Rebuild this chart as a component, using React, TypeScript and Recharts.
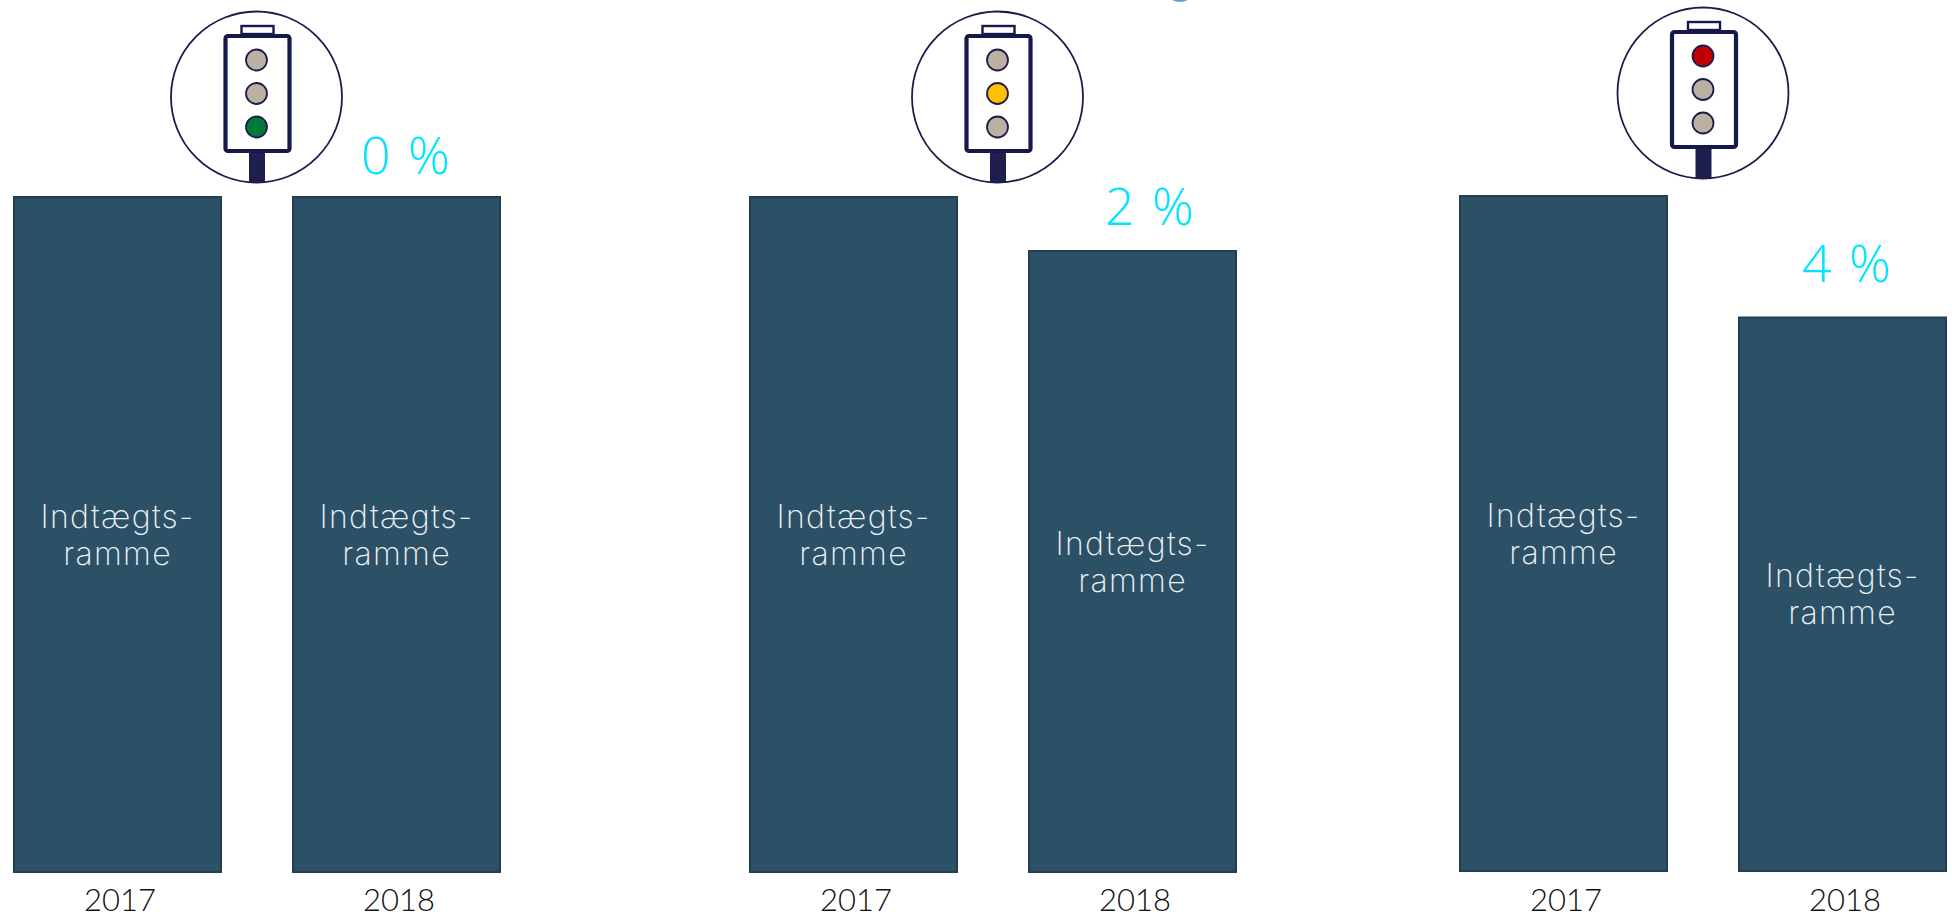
import React from "react";
import { BarChart, Bar, XAxis, YAxis, LabelList } from "recharts";

const years = ["2017", "2018"];
const incomeA = [100, 100];
const incomeB = [100, 92];
const incomeC = [100, 82];
const changeLabels = ["0 %", "2 %", "4 %"];
const barTextLines = ["Indtægts-", "ramme"];
const lampsLit = ["green", "yellow", "red"];

const rows = (vals: number[], change: string) =>
  years.map((year, i) => ({ year, income: vals[i], change: i === 1 ? change : null }));

const panels = [
  { data: rows(incomeA, changeLabels[0]), left: -21.8, top: 0, labelDx: 10, labelDy: -44, light: { cx: 256.5, cy: 97, lit: lampsLit[0] } },
  { data: rows(incomeB, changeLabels[1]), left: 714.1, top: 0, labelDx: 18, labelDy: -47, light: { cx: 997.5, cy: 97, lit: lampsLit[1] } },
  { data: rows(incomeC, changeLabels[2]), left: 1424, top: -1, labelDx: 5, labelDy: -56, light: { cx: 1703, cy: 93, lit: lampsLit[2] } },
];

const FILL = "#2C5066";
const EDGE = "#223F50";
const NAVY = "#14194A";
const LAMP_OFF = "#BCB0A2";
const LAMP_ON: Record<string, string> = { green: "#007A37", yellow: "#FFC000", red: "#C00000" };

function InnerLabel(props: any) {
  const { x, y, width, height } = props;
  const cx = x + width / 2;
  const cy = y + height / 2;
  return (
    <text textAnchor="middle" fill="#EEF3F6" fontFamily="Inter" fontWeight={200} fontSize={32} letterSpacing={1.3}>
      <tspan x={cx} y={cy - 7}>{barTextLines[0]}</tspan>
      <tspan x={cx} y={cy + 30}>{barTextLines[1]}</tspan>
    </text>
  );
}

const changeLabel = (dx: number, dy: number) => (props: any) => {
  const { x, y, width, value } = props;
  if (!value) return null;
  return (
    <text x={x + width / 2 + dx} y={y + dy} textAnchor="middle" dominantBaseline="central" fill="#00E5FF" fontFamily="Open Sans" fontWeight={300} fontSize={52} letterSpacing={2}>
      {value}
    </text>
  );
};

function YearTick(props: any) {
  const { x, payload, top } = props;
  return (
    <text x={x + 2.5} y={910.5 - top} textAnchor="middle" fill="#111" fontFamily="Lato" fontWeight={300} fontSize={31}>
      {payload.value}
    </text>
  );
}

function TrafficLight({ cx, cy, lit }: { cx: number; cy: number; lit: string }) {
  const order = ["red", "yellow", "green"];
  const lampY = [-37, -3.5, 30];
  return (
    <g>
      <circle cx={cx} cy={cy} r={85.5} fill="#fff" stroke="#1E1B4B" strokeWidth={1.8} />
      <rect x={cx - 15} y={cy - 71} width={32} height={8} fill="#fff" stroke={NAVY} strokeWidth={2.4} />
      <rect x={cx - 31} y={cy - 61} width={64} height={115} rx={2.5} fill="#fff" stroke={NAVY} strokeWidth={4.2} />
      <rect x={cx - 7.5} y={cy + 56} width={16} height={29.5} fill="#1F1F4F" />
      {order.map((c, i) => (
        <circle key={c} cx={cx} cy={cy + lampY[i]} r={10.5} fill={c === lit ? LAMP_ON[c] : LAMP_OFF} stroke="#1E1B4B" strokeWidth={1.8} />
      ))}
    </g>
  );
}

export default function App() {
  return (
    <div style={{ position: "absolute", left: 0, top: 0, width: 1952, height: 917, overflow: "hidden", background: "#fff" }}>
      {panels.map((p, i) => (
        <div key={i} style={{ position: "absolute", left: p.left, top: p.top }}>
          <BarChart width={558} height={917} data={p.data} margin={{ top: 197, right: 0, bottom: 0, left: 0 }} barCategoryGap={36}>
            <YAxis hide domain={[0, 100]} />
            <XAxis dataKey="year" height={45} axisLine={false} tickLine={false} interval={0}
              tick={(t: any) => <YearTick {...t} top={p.top} />} />
            <Bar dataKey="income" fill={FILL} stroke={EDGE} strokeWidth={2} isAnimationActive={false}>
              <LabelList dataKey="income" content={InnerLabel as any} />
              <LabelList dataKey="change" content={changeLabel(p.labelDx, p.labelDy) as any} />
            </Bar>
          </BarChart>
        </div>
      ))}
      <svg width={1952} height={917} style={{ position: "absolute", left: 0, top: 0, pointerEvents: "none" }}>
        {panels.map((p, i) => <TrafficLight key={i} {...p.light} />)}
        <ellipse cx={1180} cy={-5} rx={11} ry={7} fill="#5AA5CF" />
      </svg>
    </div>
  );
}
